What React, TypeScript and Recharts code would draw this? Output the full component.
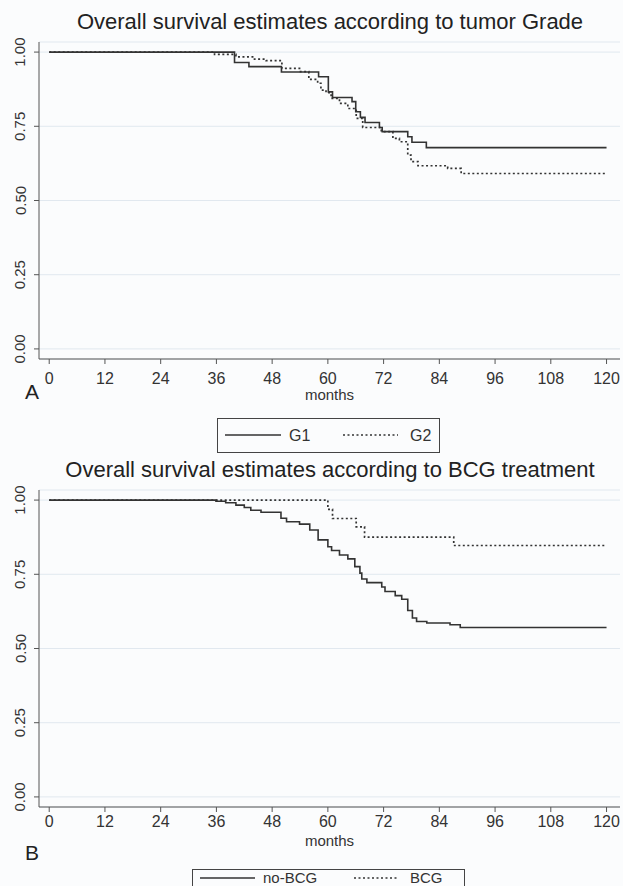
import React from "react";
import { LineChart, Line, XAxis, YAxis, CartesianGrid } from "recharts";

// tumour grade panel (A)
const g1Months = [0, 39.9, 43, 50, 58, 60.1, 61, 65.2, 66, 67, 68, 71.1, 71.7, 77.2, 78.1, 81.2, 120];
const g1Surv = [1, 0.965, 0.951, 0.933, 0.917, 0.866, 0.847, 0.833, 0.799, 0.78, 0.763, 0.746, 0.732, 0.715, 0.696, 0.678, 0.678];

const g2Months = [0, 35.6, 40.2, 44.2, 46.7, 50.1, 53.9, 55.9, 57.8, 58.5, 59.6, 60.7, 62.5, 64.3, 66.1, 67.5, 71.5, 74, 75.4, 77.2, 77.9, 79.4, 85.8, 88.7, 120];
const g2Surv = [1, 0.992, 0.984, 0.976, 0.971, 0.945, 0.934, 0.908, 0.895, 0.872, 0.863, 0.844, 0.827, 0.81, 0.777, 0.746, 0.732, 0.709, 0.698, 0.653, 0.631, 0.617, 0.608, 0.591, 0.591];

// BCG panel (B)
const noBcgMonths = [0, 35.9, 38, 40.2, 42, 43.4, 45.6, 49.9, 51.1, 53.9, 56.1, 57.9, 60, 60.8, 62.5, 64.3, 65.8, 66.9, 67.3, 68.4, 71.6, 72.3, 74.5, 75.9, 77.2, 78.2, 79.1, 81.3, 86.3, 88.5, 120];
const noBcgSurv = [1, 0.996, 0.991, 0.983, 0.975, 0.966, 0.959, 0.939, 0.927, 0.919, 0.899, 0.866, 0.843, 0.83, 0.815, 0.802, 0.776, 0.754, 0.734, 0.722, 0.707, 0.692, 0.678, 0.666, 0.628, 0.603, 0.591, 0.586, 0.58, 0.571, 0.571];

const bcgMonths = [0, 60, 61, 66.1, 67.9, 87.1, 120];
const bcgSurv = [1, 0.969, 0.938, 0.91, 0.875, 0.847, 0.847];

const monthTicks = [0, 12, 24, 36, 48, 60, 72, 84, 96, 108, 120];
const survTicks = [0, 0.25, 0.5, 0.75, 1];

const zip = (t: number[], s: number[]) => t.map((v, i) => ({ t: v, s: s[i] }));

const FONT = "'Liberation Sans', Arial, sans-serif";
const INK = "#333";
const AXIS = "#555";

const XTick = (props: any) => {
    const { x, y, payload, dy } = props;
    return (
        <text x={x} y={y + dy} textAnchor="middle" fontSize={16} fill={INK} fontFamily={FONT}>
            {payload.value}
        </text>
    );
};

const YTick = (props: any) => {
    const { y, payload } = props;
    const cx = 20;
    return (
        <text
            x={cx}
            y={y}
            transform={`rotate(-90 ${cx} ${y})`}
            textAnchor="middle"
            dominantBaseline="central"
            fontSize={15}
            fill={INK}
            fontFamily={FONT}
        >
            {payload.value.toFixed(2)}
        </text>
    );
};

interface LegendBox {
    left: number;
    top: number;
    width: number;
    height: number;
    lineY: number;
    fontSize: number;
    solidFrom: number;
    solidTo: number;
    solidLabel: string;
    dotFrom: number;
    dotTo: number;
    dotLabel: string;
}

function KmLegend({ box }: { box: LegendBox }) {
    const ty = box.lineY + box.fontSize * 0.35;
    return (
        <div
            style={{
                position: "absolute",
                left: box.left,
                top: box.top,
                width: box.width,
                height: box.height,
                border: "1px solid #444",
                boxSizing: "border-box",
            }}
        >
            <svg width={box.width - 2} height={box.height - 2} style={{ display: "block", overflow: "visible" }}>
                <line x1={box.solidFrom} x2={box.solidTo} y1={box.lineY} y2={box.lineY} stroke={INK} strokeWidth={1.6} />
                <text x={box.solidTo + 8} y={ty} fontSize={box.fontSize} fill={INK} fontFamily={FONT}>
                    {box.solidLabel}
                </text>
                <line
                    x1={box.dotFrom}
                    x2={box.dotTo}
                    y1={box.lineY}
                    y2={box.lineY}
                    stroke={INK}
                    strokeWidth={1.6}
                    strokeDasharray="2 2.5"
                />
                <text x={box.dotTo + 12} y={ty} fontSize={box.fontSize} fill={INK} fontFamily={FONT}>
                    {box.dotLabel}
                </text>
            </svg>
        </div>
    );
}

interface PanelProps {
    top: number;
    title: string;
    letter: string;
    letterTop: number;
    tickDy: number;
    monthsOffset: number;
    solid: { t: number; s: number }[];
    dotted: { t: number; s: number }[];
    legend: LegendBox;
}

function Panel({ top, title, letter, letterTop, tickDy, monthsOffset, solid, dotted, legend }: PanelProps) {
    return (
        <div style={{ position: "absolute", left: 0, top, width: 623, height: 460 }}>
            <div
                style={{
                    position: "absolute",
                    left: 0,
                    width: 660,
                    top: 9,
                    textAlign: "center",
                    fontFamily: FONT,
                    fontSize: 22,
                    color: "#222",
                    whiteSpace: "nowrap",
                }}
            >
                {title}
            </div>
            <LineChart width={623} height={410} margin={{ top: 42, right: 3, left: 0, bottom: 5 }}>
                <CartesianGrid horizontal vertical={false} stroke="#e1e8ef" strokeWidth={1} />
                <XAxis
                    type="number"
                    dataKey="t"
                    domain={[-2.2, 122.9]}
                    ticks={monthTicks}
                    allowDataOverflow
                    height={46}
                    tickSize={5}
                    stroke={AXIS}
                    tick={<XTick dy={tickDy} />}
                    label={{ value: "months", position: "insideBottom", offset: monthsOffset, fontSize: 15, fill: INK, fontFamily: FONT }}
                />
                <YAxis
                    type="number"
                    domain={[-0.034, 1.034]}
                    ticks={survTicks}
                    allowDataOverflow
                    width={39}
                    tickSize={5}
                    stroke={AXIS}
                    tick={<YTick />}
                />
                <Line
                    data={dotted}
                    dataKey="s"
                    type="stepAfter"
                    stroke={INK}
                    strokeWidth={1.7}
                    strokeDasharray="2 2.5"
                    dot={false}
                    isAnimationActive={false}
                />
                <Line
                    data={solid}
                    dataKey="s"
                    type="stepAfter"
                    stroke={INK}
                    strokeWidth={1.6}
                    dot={false}
                    isAnimationActive={false}
                />
            </LineChart>
            <div
                style={{
                    position: "absolute",
                    left: 25,
                    top: letterTop,
                    fontFamily: FONT,
                    fontSize: 21,
                    color: "#222",
                    lineHeight: 1,
                }}
            >
                {letter}
            </div>
            <KmLegend box={legend} />
        </div>
    );
}

export default function App() {
    return (
        <div
            style={{
                position: "absolute",
                left: 0,
                top: 0,
                width: 623,
                height: 886,
                overflow: "hidden",
                background: "#fbfcfd",
            }}
        >
            <Panel
                top={0}
                title="Overall survival estimates according to tumor Grade"
                letter="A"
                letterTop={381}
                tickDy={18}
                monthsOffset={5}
                solid={zip(g1Months, g1Surv)}
                dotted={zip(g2Months, g2Surv)}
                legend={{
                    left: 217,
                    top: 418,
                    width: 223,
                    height: 35,
                    lineY: 16,
                    fontSize: 16,
                    solidFrom: 7,
                    solidTo: 63,
                    solidLabel: "G1",
                    dotFrom: 125,
                    dotTo: 180,
                    dotLabel: "G2",
                }}
            />
            <Panel
                top={448}
                title="Overall survival estimates according to BCG treatment"
                letter="B"
                letterTop={394}
                tickDy={13}
                monthsOffset={7}
                solid={zip(noBcgMonths, noBcgSurv)}
                dotted={zip(bcgMonths, bcgSurv)}
                legend={{
                    left: 192,
                    top: 421,
                    width: 273,
                    height: 30,
                    lineY: 8,
                    fontSize: 15,
                    solidFrom: 7,
                    solidTo: 62,
                    solidLabel: "no-BCG",
                    dotFrom: 161,
                    dotTo: 205,
                    dotLabel: "BCG",
                }}
            />
        </div>
    );
}
